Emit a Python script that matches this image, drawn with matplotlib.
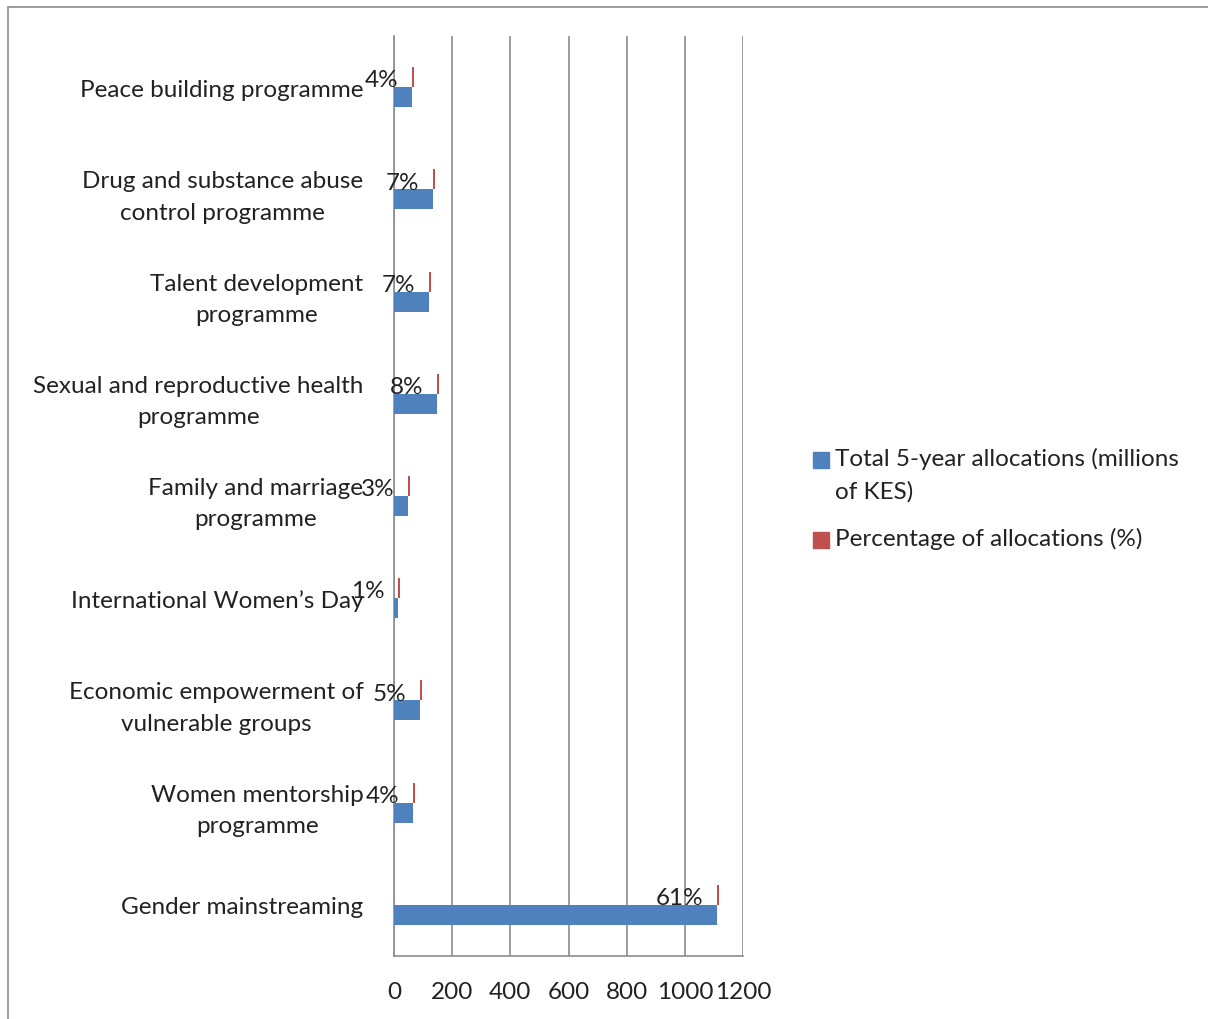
import matplotlib.pyplot as plt
from matplotlib.patches import Rectangle

plt.rcParams['font.family'] = ['Lato', 'DejaVu Sans']

categories = ['Gender mainstreaming',
              'Women mentorship\nprogramme',
              'Economic empowerment of\nvulnerable groups',
              'International Women\u2019s Day',
              'Family and marriage\nprogramme',
              'Sexual and reproductive health\nprogramme',
              'Talent development\nprogramme',
              'Drug and substance abuse\ncontrol programme',
              'Peace building programme']
totals = [1111, 65, 89, 14, 48, 148, 120, 134, 62]
percents = [61, 4, 5, 1, 3, 8, 7, 7, 4]
series_names = ['Total 5-year allocations (millions\nof KES)', 'Percentage of allocations (%)']

blue = '#4F81BD'
red = '#C0504D'
fs = 17.5
W, H = 1208, 1020

fig = plt.figure(figsize=(W / 100, H / 100), dpi=100)
ax = fig.add_axes([0.3262, 0.0618, 0.2889, 0.9019])

y = list(range(len(categories)))
h = 0.196
ax.barh([v - h / 2 for v in y], totals, height=h, color=blue, zorder=3)
ax.barh([v + h / 2 for v in y], [6] * len(y), left=totals, height=h, color=red, zorder=3)

for yi, t, p in zip(y, totals, percents):
    ax.annotate(f'{p}%', xy=(t, yi + h / 2), xytext=(-10, -2), textcoords='offset points',
                ha='right', va='center', fontsize=fs, color='#222222', zorder=4)

ax.set_xlim(0, 1200)
ax.set_ylim(-0.5, len(categories) - 0.5)
ax.set_xticks(range(0, 1201, 200))
ax.set_yticks(y)
ax.set_yticklabels(categories, multialignment='center', linespacing=1.6)
ax.tick_params(axis='both', length=0, labelsize=fs, colors='#222222')
ax.tick_params(axis='y', pad=22)
ax.tick_params(axis='x', pad=18)
ax.xaxis.grid(True, color='#8c8c8c', linewidth=1.2, zorder=0)
for s in ['top', 'right']:
    ax.spines[s].set_visible(False)
for s in ['left', 'bottom']:
    ax.spines[s].set_color('#8c8c8c')
    ax.spines[s].set_linewidth(1.2)

# legend drawn Excel-style: square aligned with the first text line
for (py, col, name) in [(453, blue, series_names[0]), (533, red, series_names[1])]:
    fig.patches.append(Rectangle((813 / W, 1 - (py + 16) / H), 16 / W, 16 / H,
                                 transform=fig.transFigure, color=col))
    fig.text(835 / W, 1 - (py - 5) / H, name, fontsize=fs, color='#222222',
             ha='left', va='top', linespacing=1.6)

fig.patches.append(Rectangle((0.0066, -0.01), 1.0, 1.002, transform=fig.transFigure,
                             fill=False, edgecolor='#8c8c8c', linewidth=1.2))

fig.savefig('out.png', dpi=100)
